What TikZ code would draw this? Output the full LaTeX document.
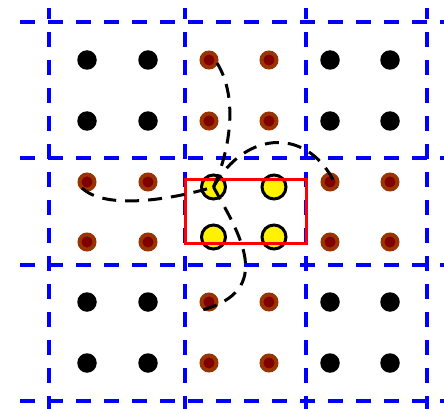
\documentclass[tikz,border=0pt]{standalone}
\usetikzlibrary{calc}
\definecolor{gridblue}{RGB}{0,0,255}
\definecolor{ringbrown}{RGB}{153,51,0}
\definecolor{coremaroon}{RGB}{128,0,0}
\begin{document}
\begin{tikzpicture}[x=1pt,y=-1pt,
  gridline/.style={gridblue,line width=4pt,dash pattern=on 15pt off 13pt},
  vgridline/.style={gridline,dash phase=4pt},
  blackdot/.style={circle,fill=black,minimum size=19.5pt,inner sep=0pt},
  browndot/.style={circle,draw=ringbrown,line width=4pt,fill=coremaroon,minimum size=15pt,inner sep=0pt},
  yellowdot/.style={circle,draw=black,line width=3pt,fill=yellow,minimum size=24pt,inner sep=0pt},
  curve/.style={black,line width=3pt,dash pattern=on 14pt off 9pt},
  box/.style={red,line width=3pt}]
\useasboundingbox (0,0) rectangle (444,409);
% grid lines
\foreach \yy in {22,158,265,401} \draw[gridline] (20,\yy) -- (450,\yy);
\foreach \xx in {49,185,306,427} \draw[vgridline] (\xx,8) -- (\xx,412);
% black dots
\foreach \xx/\c in {87/1,148/2,330/5,390/6}
  \foreach \yy/\r in {60/0,121/1,302/5,363/6}
    \node[blackdot] (k\r\c) at (\xx,\yy) {};
% brown dots: columns 3,4
\foreach \xx/\c in {209/3,269/4}
  \foreach \yy/\r in {60/0,121/1,302/5,363/6}
    \node[browndot] (b\r\c) at (\xx,\yy) {};
% brown dots: rows 3,4
\foreach \xx/\c in {87/1,148/2,330/5,390/6}
  {\node[browndot] (b3\c) at (\xx,182) {};
   \node[browndot] (b4\c) at (\xx,242) {};}
% yellow dots
\node[yellowdot] (y1) at (213.5,187) {};
\node[yellowdot] (y2) at (274,187) {};
\node[yellowdot] (y3) at (213.5,237) {};
\node[yellowdot] (y4) at (274,237) {};
% red box
\node[box,draw,minimum width=121pt,minimum height=64pt,inner sep=0pt,outer sep=0pt] (rb) at (245.5,211) {};
% dashed curves
\draw[curve] ($(b31)+(-5,6)$) .. controls (105,210) and (170,200) .. (y1.center);
\draw[curve] ($(b03)+(8,3)$) .. controls (240,100) and (228,155) .. (y1.center);
\draw[curve] (y1.center) .. controls (245,130) and (310,125) .. ($(b35)+(7,6)$);
\draw[curve] (y1.center) .. controls (240,235) and (275,290) .. ($(b53)+(-7,8)$);
\end{tikzpicture}
\end{document}
